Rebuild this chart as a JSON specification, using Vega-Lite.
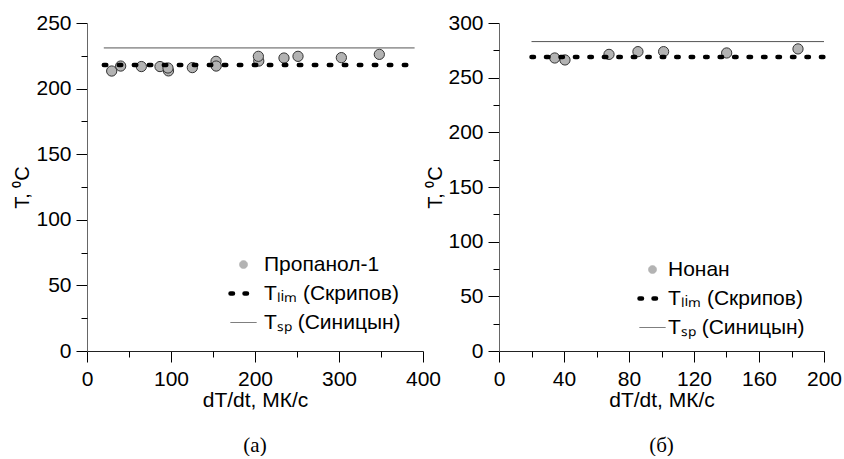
{
  "$schema": "https://vega.github.io/schema/vega-lite/v6.json",
  "autosize": {"type": "pad"},
  "padding": {"left": 12, "top": 12, "right": 2, "bottom": 0},
  "background": "white",
  "config": {
    "view": {"stroke": null},
    "font": "Liberation Sans",
    "axis": {
      "labelFont": "Liberation Sans", "labelFontSize": 21, "labelColor": "#000",
      "titleFont": "Liberation Sans", "titleFontSize": 21, "titleFontWeight": "normal", "titleColor": "#000",
      "tickColor": "#000", "tickWidth": 1, "tickSize": 11, "grid": false, "labelFlush": false, "labelOverlap": false
    },
    "legend": {
      "labelFont": "Liberation Sans", "labelFontSize": 21, "labelColor": "#000",
      "symbolSize": 676, "symbolStrokeWidth": 1, "rowPadding": 7, "padding": 0, "labelOffset": 6, "title": null
    }
  },
  "resolve": {"scale": {"color": "independent", "x": "independent", "y": "independent"}, "legend": {"color": "independent"}},
  "bounds": "flush",
  "spacing": 76,
  "hconcat": [
    {
      "width": 336, "height": 328,
      "title": {"text": "(а)", "orient": "bottom", "font": "Liberation Serif", "fontSize": 21, "fontWeight": "normal", "color": "#000", "offset": 25},
      "data": {"values": [
        {"x": 29.4, "T": 213.4, "s": "Пропанол-1"},
        {"x": 40.1, "T": 217.2, "s": "Пропанол-1"},
        {"x": 64.7, "T": 216.8, "s": "Пропанол-1"},
        {"x": 86.9, "T": 216.8, "s": "Пропанол-1"},
        {"x": 97.0, "T": 213.5, "s": "Пропанол-1"},
        {"x": 96.4, "T": 215.7, "s": "Пропанол-1"},
        {"x": 125.4, "T": 216.0, "s": "Пропанол-1"},
        {"x": 153.6, "T": 220.8, "s": "Пропанол-1"},
        {"x": 153.8, "T": 217.2, "s": "Пропанол-1"},
        {"x": 204.5, "T": 221.0, "s": "Пропанол-1"},
        {"x": 204.0, "T": 224.6, "s": "Пропанол-1"},
        {"x": 234.5, "T": 223.3, "s": "Пропанол-1"},
        {"x": 251.2, "T": 224.6, "s": "Пропанол-1"},
        {"x": 302.8, "T": 223.6, "s": "Пропанол-1"},
        {"x": 348.0, "T": 226.1, "s": "Пропанол-1"},
        {"x": 20, "T": 218, "s": "Tₗᵢₘ (Скрипов)"},
        {"x": 390, "T": 218, "s": "Tₗᵢₘ (Скрипов)"},
        {"x": 20, "T": 231, "s": "Tₛₚ (Синицын)"},
        {"x": 390, "T": 231, "s": "Tₛₚ (Синицын)"}
      ]},
      "resolve": {"axis": {"x": "independent", "y": "independent"}},
      "encoding": {
        "color": {"field": "s", "type": "nominal",
          "scale": {"domain": ["Пропанол-1", "Tₗᵢₘ (Скрипов)", "Tₛₚ (Синицын)"], "range": ["#b3b3b3", "#000000", "#555555"]},
          "legend": {"orient": "none", "legendX": 146, "legendY": 231, "labelOffset": 10,
            "encode": {"symbols": {"update": {
              "shape": {"signal": "datum.index == 0 ? 'circle' : 'stroke'"},
              "size": {"signal": "datum.index == 0 ? 60 : 676"},
              "fill": {"signal": "datum.index == 0 ? '#b3b3b3' : 'transparent'"},
              "stroke": {"signal": "datum.index == 0 ? '#333333' : datum.index == 1 ? '#000000' : '#555555'"},
              "strokeWidth": {"signal": "datum.index == 1 ? 4.5 : 1"},
              "strokeDash": {"signal": "datum.index == 1 ? [2.5, 11.5] : [1, 0]"},
              "strokeCap": {"signal": "datum.index == 1 ? 'round' : 'butt'"},
              "opacity": {"value": 1}
            }}}}
        }
      },
      "layer": [
        {
          "transform": [{"filter": "datum.s == 'Пропанол-1'"}],
          "mark": {"type": "circle", "size": 105, "stroke": "#333333", "strokeWidth": 1, "opacity": 1},
          "encoding": {
            "x": {"field": "x", "type": "quantitative", "scale": {"domain": [0, 400], "nice": false},
              "axis": {"values": [0, 100, 200, 300, 400], "title": "dT/dt, МК/с", "domainColor": "#222", "labelPadding": 6, "titlePadding": 0, "orient": "bottom"}},
            "y": {"field": "T", "type": "quantitative", "scale": {"domain": [0, 250], "nice": false},
              "axis": {"values": [0, 50, 100, 150, 200, 250], "title": "T, ⁰C", "titleFontSize": 20, "domainColor": "#666", "labelPadding": 5, "titlePadding": 3, "orient": "left"}}
          }
        },
        {
          "transform": [{"filter": "datum.s == 'Tₗᵢₘ (Скрипов)'"}],
          "mark": {"type": "line", "strokeWidth": 4.5, "strokeDash": [2.5, 12.5], "strokeCap": "round"},
          "encoding": {
            "x": {"field": "x", "type": "quantitative",
              "axis": {"values": [50, 150, 250, 350], "labels": false, "domain": false, "tickSize": 6, "title": null, "orient": "bottom"}},
            "y": {"field": "T", "type": "quantitative",
              "axis": {"values": [25, 75, 125, 175, 225], "labels": false, "domain": false, "tickSize": 6, "title": null, "orient": "left"}}
          }
        },
        {
          "transform": [{"filter": "datum.s == 'Tₛₚ (Синицын)'"}],
          "mark": {"type": "line", "strokeWidth": 1},
          "encoding": {
            "x": {"field": "x", "type": "quantitative", "axis": null},
            "y": {"field": "T", "type": "quantitative", "axis": null}
          }
        }
      ]
    },
    {
      "width": 325, "height": 328,
      "title": {"text": "(б)", "orient": "bottom", "font": "Liberation Serif", "fontSize": 21, "fontWeight": "normal", "color": "#000", "offset": 25},
      "data": {"values": [
        {"x": 34.3, "T": 268.0, "s": "Нонан"},
        {"x": 40.6, "T": 266.2, "s": "Нонан"},
        {"x": 67.7, "T": 271.3, "s": "Нонан"},
        {"x": 85.5, "T": 273.8, "s": "Нонан"},
        {"x": 101.3, "T": 273.8, "s": "Нонан"},
        {"x": 140.1, "T": 272.6, "s": "Нонан"},
        {"x": 184.0, "T": 276.3, "s": "Нонан"},
        {"x": 20, "T": 269, "s": "Tₗᵢₘ (Скрипов)"},
        {"x": 200, "T": 269, "s": "Tₗᵢₘ (Скрипов)"},
        {"x": 20, "T": 283, "s": "Tₛₚ (Синицын)"},
        {"x": 200, "T": 283, "s": "Tₛₚ (Синицын)"}
      ]},
      "resolve": {"axis": {"x": "independent", "y": "independent"}},
      "encoding": {
        "color": {"field": "s", "type": "nominal",
          "scale": {"domain": ["Нонан", "Tₗᵢₘ (Скрипов)", "Tₛₚ (Синицын)"], "range": ["#b3b3b3", "#000000", "#555555"]},
          "legend": {"orient": "none", "legendX": 143, "legendY": 236, "labelOffset": 5,
            "encode": {"symbols": {"update": {
              "shape": {"signal": "datum.index == 0 ? 'circle' : 'stroke'"},
              "size": {"signal": "datum.index == 0 ? 60 : 676"},
              "fill": {"signal": "datum.index == 0 ? '#b3b3b3' : 'transparent'"},
              "stroke": {"signal": "datum.index == 0 ? '#333333' : datum.index == 1 ? '#000000' : '#555555'"},
              "strokeWidth": {"signal": "datum.index == 1 ? 4.5 : 1"},
              "strokeDash": {"signal": "datum.index == 1 ? [2.5, 11.5] : [1, 0]"},
              "strokeCap": {"signal": "datum.index == 1 ? 'round' : 'butt'"},
              "opacity": {"value": 1}
            }}}}
        }
      },
      "layer": [
        {
          "transform": [{"filter": "datum.s == 'Нонан'"}],
          "mark": {"type": "circle", "size": 105, "stroke": "#333333", "strokeWidth": 1, "opacity": 1},
          "encoding": {
            "x": {"field": "x", "type": "quantitative", "scale": {"domain": [0, 200], "nice": false},
              "axis": {"values": [0, 40, 80, 120, 160, 200], "title": "dT/dt, МК/с", "domainColor": "#222", "labelPadding": 6, "titlePadding": 0, "orient": "bottom"}},
            "y": {"field": "T", "type": "quantitative", "scale": {"domain": [0, 300], "nice": false},
              "axis": {"values": [0, 50, 100, 150, 200, 250, 300], "title": "T, ⁰C", "titleFontSize": 20, "domainColor": "#666", "labelPadding": 5, "titlePadding": 2, "orient": "left"}}
          }
        },
        {
          "transform": [{"filter": "datum.s == 'Tₗᵢₘ (Скрипов)'"}],
          "mark": {"type": "line", "strokeWidth": 4.5, "strokeDash": [2.5, 11.97], "strokeCap": "round"},
          "encoding": {
            "x": {"field": "x", "type": "quantitative",
              "axis": {"values": [20, 60, 100, 140, 180], "labels": false, "domain": false, "tickSize": 6, "title": null, "orient": "bottom"}},
            "y": {"field": "T", "type": "quantitative",
              "axis": {"values": [25, 75, 125, 175, 225, 275], "labels": false, "domain": false, "tickSize": 6, "title": null, "orient": "left"}}
          }
        },
        {
          "transform": [{"filter": "datum.s == 'Tₛₚ (Синицын)'"}],
          "mark": {"type": "line", "strokeWidth": 1},
          "encoding": {
            "x": {"field": "x", "type": "quantitative", "axis": null},
            "y": {"field": "T", "type": "quantitative", "axis": null}
          }
        }
      ]
    }
  ]
}
